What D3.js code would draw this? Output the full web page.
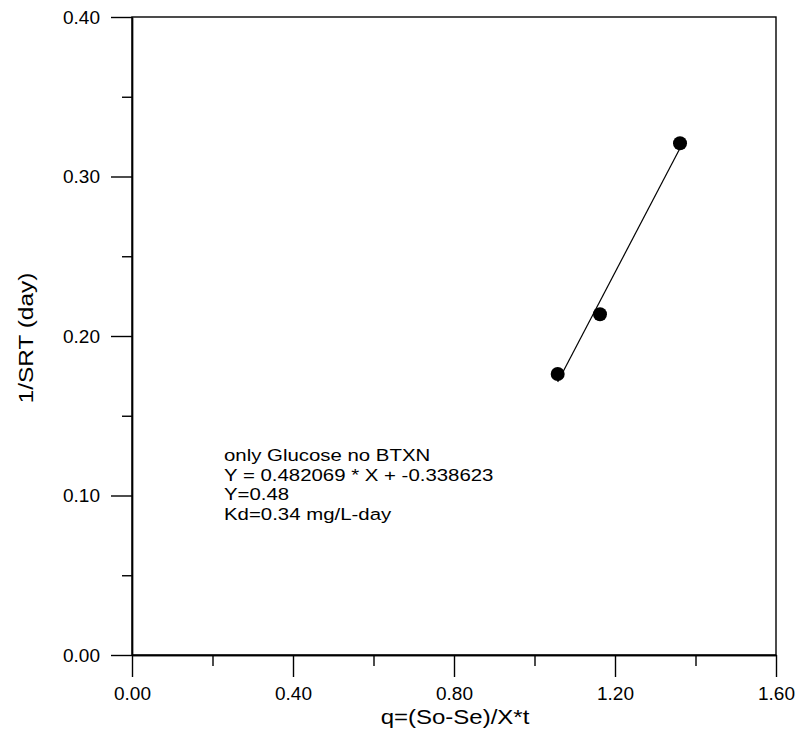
<!DOCTYPE html>
<meta charset="utf-8">
<style>
    body { margin: 0; background: #fff; }
    .axis path,
    .axis line {
        fill: none;
        stroke: black;
        stroke-width: 1.4px;
    }
    .axis text {
        font-family: Arial, "Liberation Sans", sans-serif;
        font-size: 19px;
        fill: black;
    }
    .note text, .title {
        font-family: Arial, "Liberation Sans", sans-serif;
        fill: black;
    }
</style>

<svg width="796" height="739"></svg>

<script src="https://cdn.jsdelivr.net/npm/d3@7"></script>

<script>
    // measured points
    var qVals = [1.0576, 1.1627, 1.3615],
        srtVals = [0.1762, 0.2136, 0.3208],
        // regression line ends (x), y from stated fit
        fitX = [1.0576, 1.3615],
        fitY = [0.1712, 0.3177],
        xMajor = [0, 0.4, 0.8, 1.2, 1.6],
        xMinor = [0.2, 0.6, 1.0, 1.4],
        yMajor = [0, 0.1, 0.2, 0.3, 0.4],
        yMinor = [0.05, 0.15, 0.25, 0.35],
        noteLines = ["only Glucose no BTXN", "Y = 0.482069 * X + -0.338623", "Y=0.48", "Kd=0.34 mg/L-day"];

    (function () {
        var svg = d3.select("svg"),
            left = 132, right = 776, top = 17, bottom = 655,
            x = d3.scaleLinear().domain([0, 1.6]).range([left, right]),
            y = d3.scaleLinear().domain([0, 0.4]).range([bottom, top]),
            fmt = d3.format(".2f");

        // frame
        svg.append("rect")
            .attr("x", left).attr("y", top)
            .attr("width", right - left).attr("height", bottom - top)
            .attr("fill", "none").attr("stroke", "black").attr("stroke-width", 1.4);

        // x axis
        svg.append("g").attr("class", "axis")
            .attr("transform", "translate(0," + bottom + ")")
            .call(d3.axisBottom(x).tickValues(xMajor).tickFormat(fmt).tickSize(22).tickPadding(10).tickSizeOuter(0));
        svg.append("g").attr("class", "axis")
            .attr("transform", "translate(0," + bottom + ")")
            .call(d3.axisBottom(x).tickValues(xMinor).tickFormat("").tickSize(11).tickSizeOuter(0));

        // y axis
        svg.append("g").attr("class", "axis")
            .attr("transform", "translate(" + left + ",0)")
            .call(d3.axisLeft(y).tickValues(yMajor).tickFormat(fmt).tickSize(21).tickPadding(11).tickSizeOuter(0));
        svg.append("g").attr("class", "axis")
            .attr("transform", "translate(" + left + ",0)")
            .call(d3.axisLeft(y).tickValues(yMinor).tickFormat("").tickSize(10).tickSizeOuter(0));

        // fit line
        svg.append("path")
            .datum(d3.zip(fitX, fitY))
            .attr("fill", "none").attr("stroke", "black").attr("stroke-width", 1.2)
            .attr("d", d3.line().x(function (d) { return x(d[0]); }).y(function (d) { return y(d[1]); }));

        // points
        svg.selectAll("circle.pt")
            .data(d3.zip(qVals, srtVals))
            .enter().append("circle")
            .attr("class", "pt")
            .attr("cx", function (d) { return x(d[0]); })
            .attr("cy", function (d) { return y(d[1]); })
            .attr("r", 7)
            .attr("fill", "black");

        // annotation (the scanned text is wide, so stretch it a bit)
        var note = svg.append("g").attr("class", "note")
            .attr("transform", "translate(224,461) scale(1.2,1)");
        note.selectAll("text")
            .data(noteLines)
            .enter().append("text")
            .attr("x", 0)
            .attr("y", function (d, i) { return i * 19.6; })
            .attr("font-size", "17px")
            .text(function (d) { return d; });

        // axis titles
        svg.append("text").attr("class", "title")
            .attr("transform", "translate(455,724) scale(1.2,1)")
            .attr("text-anchor", "middle").attr("font-size", "20px")
            .text("q=(So-Se)/X*t");
        svg.append("text").attr("class", "title")
            .attr("transform", "translate(33,338) rotate(-90) scale(1.22,1)")
            .attr("text-anchor", "middle").attr("font-size", "20px")
            .text("1/SRT (day)");
    })();
</script>
